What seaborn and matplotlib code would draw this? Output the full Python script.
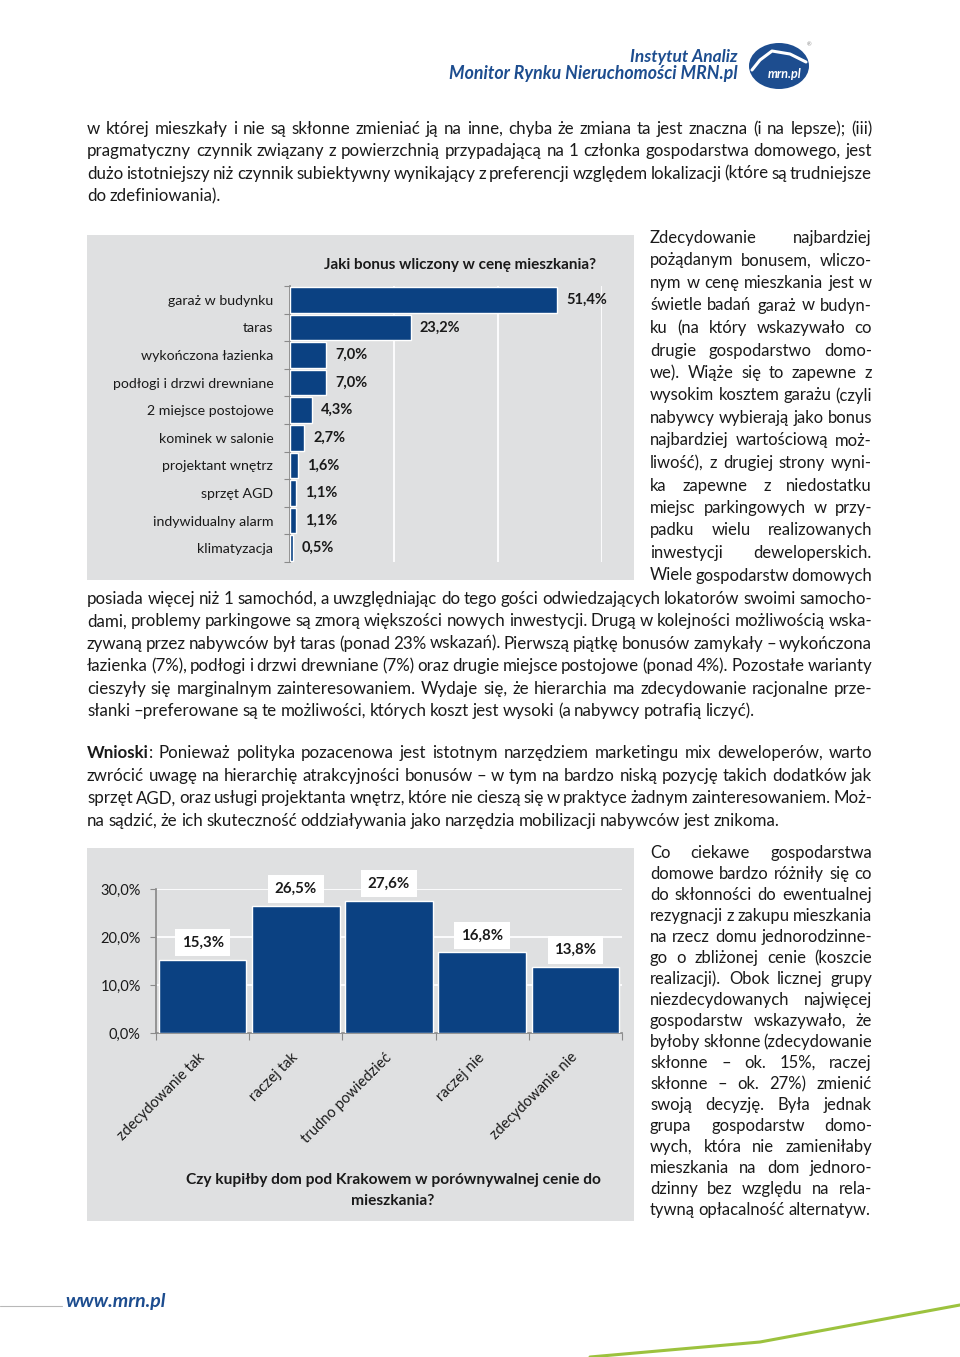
import numpy as np
import pandas as pd
import seaborn as sns
import matplotlib.pyplot as plt
from matplotlib.patches import Rectangle, Ellipse
from matplotlib.lines import Line2D

W, H = 960, 1357

# chart data
bonus_names = ['garaż w budynku', 'taras', 'wykończona łazienka', 'podłogi i drzwi drewniane',
               '2 miejsce postojowe', 'kominek w salonie', 'projektant wnętrz', 'sprzęt AGD',
               'indywidualny alarm', 'klimatyzacja']
bonus_pct = [51.4, 23.2, 7.0, 7.0, 4.3, 2.7, 1.6, 1.1, 1.1, 0.5]

house_answers = ['zdecydowanie tak', 'raczej tak', 'trudno powiedzieć', 'raczej nie', 'zdecydowanie nie']
house_pct = [15.3, 26.5, 27.6, 16.8, 13.8]
house_ticks = [0, 10, 20, 30]

# page text, line by line as in the layout
para1 = ['w której mieszkały i nie są skłonne zmieniać ją na inne, chyba że zmiana ta jest znaczna (i na lepsze); (iii)',
         'pragmatyczny czynnik związany z powierzchnią przypadającą na 1 członka gospodarstwa domowego, jest',
         'dużo istotniejszy niż czynnik subiektywny wynikający z preferencji względem lokalizacji (które są trudniejsze',
         'do zdefiniowania).']
side1 = ['Zdecydowanie najbardziej', 'pożądanym bonusem, wliczo-', 'nym w cenę mieszkania jest w',
         'świetle badań garaż w budyn-', 'ku (na który wskazywało co', 'drugie gospodarstwo domo-',
         'we). Wiąże się to zapewne z', 'wysokim kosztem garażu (czyli', 'nabywcy wybierają jako bonus',
         'najbardziej wartościową moż-', 'liwość), z drugiej strony wyni-', 'ka zapewne z niedostatku',
         'miejsc parkingowych w przy-', 'padku wielu realizowanych', 'inwestycji deweloperskich.',
         'Wiele gospodarstw domowych']
para2 = ['posiada więcej niż 1 samochód, a uwzględniając do tego gości odwiedzających lokatorów swoimi samocho-',
         'dami, problemy parkingowe są zmorą większości nowych inwestycji. Drugą w kolejności możliwością wska-',
         'zywaną przez nabywców był taras (ponad 23% wskazań). Pierwszą piątkę bonusów zamykały – wykończona',
         'łazienka (7%), podłogi i drzwi drewniane (7%) oraz drugie miejsce postojowe (ponad 4%). Pozostałe warianty',
         'cieszyły się marginalnym zainteresowaniem. Wydaje się, że hierarchia ma zdecydowanie racjonalne prze-',
         'słanki –preferowane są te możliwości, których koszt jest wysoki (a nabywcy potrafią liczyć).']
para3 = ['**Wnioski**: Ponieważ polityka pozacenowa jest istotnym narzędziem marketingu mix deweloperów, warto',
         'zwrócić uwagę na hierarchię atrakcyjności bonusów – w tym na bardzo niską pozycję takich dodatków jak',
         'sprzęt AGD, oraz usługi projektanta wnętrz, które nie cieszą się w praktyce żadnym zainteresowaniem. Moż-',
         'na sądzić, że ich skuteczność oddziaływania jako narzędzia mobilizacji nabywców jest znikoma.']
side2 = ['Co ciekawe gospodarstwa', 'domowe bardzo różniły się co', 'do skłonności do ewentualnej',
         'rezygnacji z zakupu mieszkania', 'na rzecz domu jednorodzinne-', 'go o zbliżonej cenie (koszcie',
         'realizacji). Obok licznej grupy', 'niezdecydowanych najwięcej', 'gospodarstw wskazywało, że',
         'byłoby skłonne (zdecydowanie', 'skłonne – ok. 15%, raczej', 'skłonne – ok. 27%) zmienić',
         'swoją decyzję. Była jednak', 'grupa gospodarstw domo-', 'wych, która nie zamieniłaby',
         'mieszkania na dom jednoro-', 'dzinny bez względu na rela-', 'tywną opłacalność alternatyw.']

BLUE = '#0b4182'
BOX = '#dfe0e1'
INK = '#1a1a1a'
LOGO = '#1d4d8f'

sns.set_theme(style='white')
plt.rcParams['font.family'] = ['Lato', 'DejaVu Sans']
FAM = ['Lato', 'DejaVu Sans']

fig = plt.figure(figsize=(W / 100, H / 100), dpi=100, facecolor='white')
rend = fig.canvas.get_renderer()


def fx(x):
    return x / W


def fy(y):
    return 1 - y / H


def put_line(x0, x1, y, line, justify, size, min_gap=2.5):
    # split into (word, weight) pieces, '**' marks bold
    words = []
    for w in line.split(' '):
        if w.startswith('**'):
            b, rest = w[2:].split('**')
            words.append([(b, 'bold'), (rest, 'normal')])
        else:
            words.append([(w, 'normal')])
    while True:
        arts = []
        widths = []
        for parts in words:
            group = []
            for txt, wt in parts:
                t = fig.text(0, fy(y), txt, va='center', ha='left', fontsize=size,
                             family=FAM, fontweight=wt, color=INK)
                group.append((t, t.get_window_extent(rend).width))
            arts.append(group)
            widths.append(sum(g[1] for g in group))
        space = arts[0][0][0].get_window_extent(rend).height * 0.22
        gap = (x1 - x0 - sum(widths)) / max(len(words) - 1, 1)
        if gap >= min_gap or not justify:
            break
        for group in arts:
            for t, _ in group:
                t.remove()
        size -= 0.25
    if not justify:
        gap = space
    x = x0
    for group, wd in zip(arts, widths):
        xx = x
        for t, w in group:
            t.set_x(fx(xx))
            xx += w
        x += wd + gap


def put_block(lines, x0, x1, y0, step, size, justify_last=False):
    for i, line in enumerate(lines):
        last = i == len(lines) - 1
        put_line(x0, x1, y0 + i * step, line, justify_last or not last, size,
                 min_gap=1.2 if last else 2.5)


# page text
put_block(para1, 87, 872, 129, 22.4, 12.2)
put_block(side1, 650, 872, 238, 22.5, 12.0, justify_last=True)
put_block(para2, 87, 872, 599, 22.4, 12.2)
put_block(para3, 87, 872, 753, 22.6, 12.2)
put_block(side2, 650, 872, 853, 21.0, 12.0)

# header
fig.text(fx(738), fy(57), 'Instytut Analiz', ha='right', va='center', fontsize=12.5,
         fontweight='bold', style='italic', color=LOGO)
fig.text(fx(738), fy(73), 'Monitor Rynku Nieruchomości MRN.pl', ha='right', va='center',
         fontsize=12.8, fontweight='bold', style='italic', color=LOGO)
fig.add_artist(Ellipse((fx(779), fy(66)), 60 / W, 46 / H, transform=fig.transFigure,
                       facecolor=LOGO, edgecolor='none'))
fig.add_artist(Line2D([fx(752), fx(760), fx(772), fx(790), fx(806)],
                      [fy(70), fy(60), fy(51), fy(54), fy(62)], transform=fig.transFigure,
                      color='white', lw=2.2, solid_capstyle='round'))
fig.text(fx(785), fy(74), 'mrn.pl', ha='center', va='center', fontsize=9, fontweight='bold',
         style='italic', color='white')
fig.text(fx(809), fy(45), '®', ha='center', va='center', fontsize=4, color='#888888')

# footer
fig.add_artist(Line2D([0, fx(62)], [fy(1306), fy(1306)], transform=fig.transFigure,
                      color='#b8b8b8', lw=0.8))
fig.text(fx(65), fy(1301), 'www.mrn.pl', ha='left', va='center', fontsize=14, fontweight='bold',
         style='italic', color=LOGO)
fig.add_artist(Line2D([fx(590), fx(760), fx(960)], [fy(1357), fy(1342), fy(1305)],
                      transform=fig.transFigure, color='#9cc23e', lw=2.2))

# chart 1 box
fig.add_artist(Rectangle((fx(87), fy(580)), (634 - 87) / W, (580 - 235) / H,
                         transform=fig.transFigure, facecolor=BOX, edgecolor='none', zorder=-1))
ax1 = fig.add_axes([fx(290), fy(562), (602 - 290) / W, (562 - 286) / H])
ax1.set_facecolor('none')
df1 = pd.DataFrame({'bonus': bonus_names, 'pct': bonus_pct})
sns.barplot(data=df1, x='pct', y='bonus', orient='h', color=BLUE, saturation=1,
            width=0.93, ax=ax1, zorder=3)
ax1.set_xlim(0, 60)
ax1.set_xticks([20, 40, 60])
ax1.grid(axis='x', color='white', lw=1.3)
ax1.set_axisbelow(True)
ax1.tick_params(axis='x', length=0, labelbottom=False)
ax1.set_xlabel('')
ax1.set_ylabel('')
for s in ['top', 'right', 'bottom']:
    ax1.spines[s].set_visible(False)
ax1.spines['left'].set_color('#8a8a8a')
ax1.set_yticks(np.arange(-0.5, len(bonus_names), 1), minor=True)
ax1.tick_params(axis='y', which='major', length=0, pad=12, labelsize=10.2, labelcolor=INK)
ax1.tick_params(axis='y', which='minor', left=True, length=4, color='#8a8a8a', width=0.8)
for i, v in enumerate(bonus_pct):
    ax1.annotate(f'{v:.1f}%'.replace('.', ','), (v, i), xytext=(9, 0), textcoords='offset pixels',
                 ha='left', va='center', fontsize=10.5, fontweight='bold', color=INK)
fig.text(fx(460), fy(265), 'Jaki bonus wliczony w cenę mieszkania?', ha='center', va='center',
         fontsize=11, fontweight='bold', color=INK)

# chart 2 box
fig.add_artist(Rectangle((fx(87), fy(1221)), (634 - 87) / W, (1221 - 848) / H,
                         transform=fig.transFigure, facecolor=BOX, edgecolor='none', zorder=-1))
ax2 = fig.add_axes([fx(156), fy(1033), (622 - 156) / W, (1033 - 889) / H])
ax2.set_facecolor('none')
df2 = pd.DataFrame({'answer': house_answers, 'pct': house_pct})
sns.barplot(data=df2, x='answer', y='pct', color=BLUE, saturation=1, width=0.94, ax=ax2, zorder=3)
ax2.set_ylim(0, 30)
ax2.set_xlim(-0.5, len(house_answers) - 0.5)
ax2.set_yticks(house_ticks)
ax2.set_yticklabels([f'{t:.1f}%'.replace('.', ',') for t in house_ticks])
ax2.grid(axis='y', color='white', lw=1.3)
ax2.set_axisbelow(True)
ax2.set_xlabel('')
ax2.set_ylabel('')
for s in ['top', 'right']:
    ax2.spines[s].set_visible(False)
for s in ['left', 'bottom']:
    ax2.spines[s].set_color('#8a8a8a')
ax2.tick_params(axis='y', left=True, length=4, color='#8a8a8a', width=0.8, pad=7,
                labelsize=10.5, labelcolor=INK)
ax2.set_xticks(np.arange(-0.5, len(house_answers), 1), minor=True)
ax2.tick_params(axis='x', which='minor', bottom=True, length=5, color='#8a8a8a', width=0.8)
ax2.tick_params(axis='x', which='major', length=0, pad=16, labelsize=10.6, labelcolor=INK)
for lab in ax2.get_xticklabels():
    lab.set_rotation(45)
    lab.set_ha('right')
    lab.set_va('center')
    lab.set_rotation_mode('anchor')
for i, v in enumerate(house_pct):
    ax2.annotate(f'{v:.1f}%'.replace('.', ','), (i, v), xytext=(0, 17), textcoords='offset pixels',
                 ha='center', va='center', fontsize=10.8, fontweight='bold', color=INK,
                 bbox=dict(boxstyle='square,pad=0.45', facecolor='white', edgecolor='none'))
fig.text(fx(393), fy(1180), 'Czy kupiłby dom pod Krakowem w porównywalnej cenie do', ha='center',
         va='center', fontsize=11.2, fontweight='bold', color=INK)
fig.text(fx(393), fy(1201), 'mieszkania?', ha='center', va='center', fontsize=11.2,
         fontweight='bold', color=INK)

fig.savefig('out.png', dpi=100, facecolor='white')
